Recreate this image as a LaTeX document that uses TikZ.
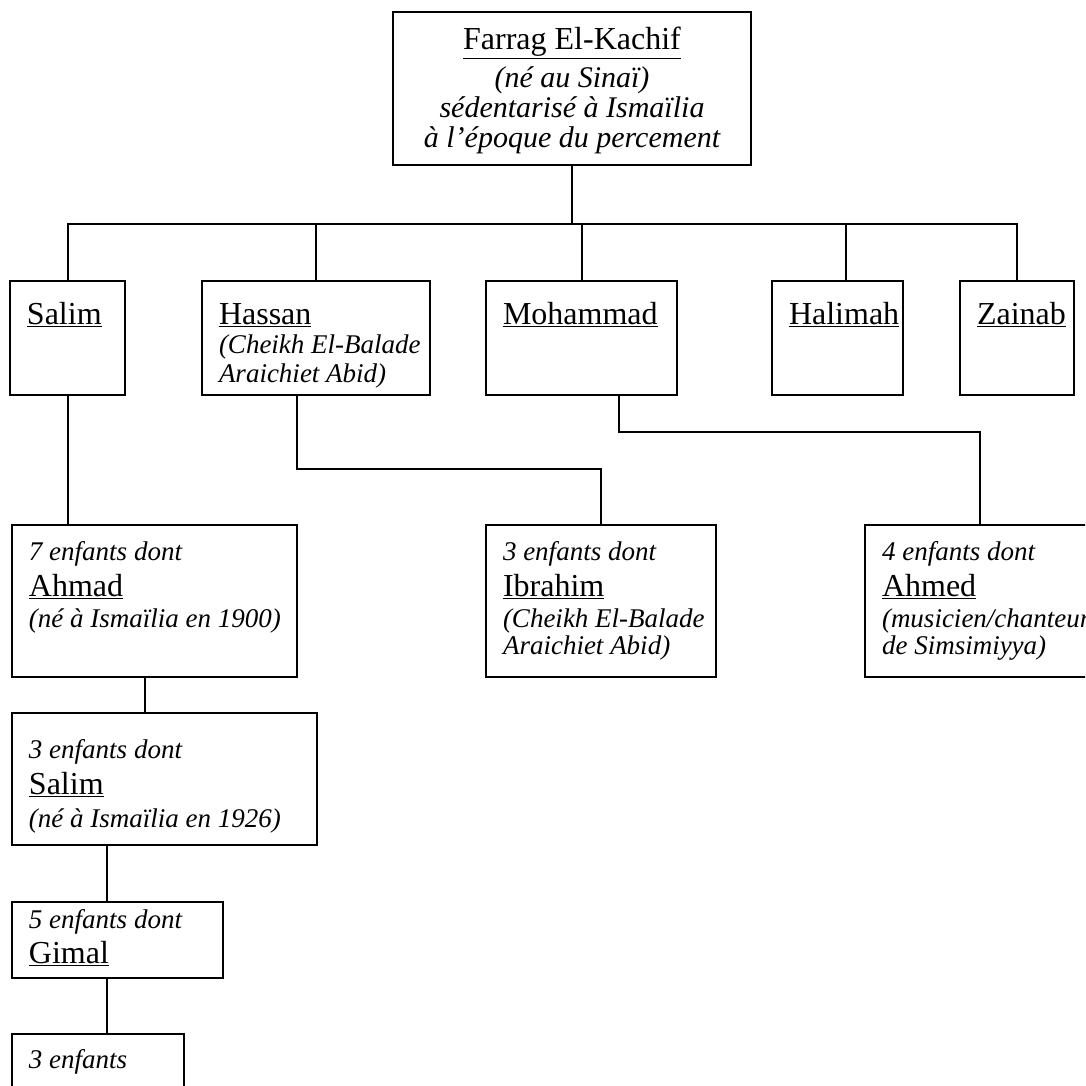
\documentclass[tikz,border=0pt]{standalone}
\usepackage{fontspec}
\setmainfont{Liberation Serif}
\usepackage{tikz}

\newcommand{\nom}[1]{{\upshape\fontsize{32}{29}\selectfont\underline{#1}}}
\newcommand{\fiche}[4]{\parbox[t][#2pt][t]{#1pt}{\raggedright\leftskip=17pt\lineskiplimit=-100pt\rule{0pt}{#3pt}#4}}

\begin{document}
\begin{tikzpicture}[x=1pt,y=-1pt,line width=2pt,
    coude/.style={to path={-- ++(0,#1) -| (\tikztotarget)}}]
	\tikzstyle{boite}=[draw, rectangle, line width=2.2pt, inner sep=0pt, outer sep=0pt, anchor=north west, font=\fontsize{27}{29}\selectfont\itshape]
	\clip (0,0) rectangle (1085,1086);
	% generation 1
	\node[boite,font=\fontsize{30}{30}\selectfont\itshape] (farrag) at (393,12) {\fiche{358}{153}{38}{\centering\nom{Farrag El-Kachif}\\[8pt] (né au Sinaï)\\ sédentarisé à Ismaïlia\\ à l'époque du percement}};
	% generation 2
	\node[boite] (salim)    at (10,281)  {\fiche{115}{114}{43}{\nom{Salim}}};
	\node[boite] (hassan)   at (202,281) {\fiche{228}{114}{43}{\nom{Hassan}\\ (Cheikh El-Balade\\ Araichiet Abid)}};
	\node[boite] (mohammad) at (486,281) {\fiche{191}{114}{43}{\nom{Mohammad}}};
	\node[boite] (halimah)  at (772,281) {\fiche{131}{114}{43}{\nom{Halimah}}};
	\node[boite] (zainab)   at (960,281) {\fiche{114}{114}{43}{\nom{Zainab}}};
	% generation 3
	\node[boite] (ahmad)    at (12,525)  {\fiche{285}{152}{35}{7 enfants dont\\[7pt] \nom{Ahmad}\\[2pt] (né à Ismaïlia en 1900)}};
	\node[boite] (ibrahim)  at (486,525) {\fiche{230}{152}{35}{3 enfants dont\\[7pt] \nom{Ibrahim}\\[2pt] (Cheikh El-Balade\\[-2pt] Araichiet Abid)}};
	\node[boite] (ahmed)    at (865,525) {\fiche{230}{152}{35}{4 enfants dont\\[7pt] \nom{Ahmed}\\[2pt] (musicien/chanteur\\[-2pt] de Simsimiyya)}};
	% descendants of Ahmad
	\node[boite] (salimb)   at (12,713)  {\fiche{305}{132}{45}{3 enfants dont\\[7pt] \nom{Salim}\\[4pt] (né à Ismaïlia en 1926)}};
	\node[boite] (gimal)    at (12,902)  {\fiche{211}{76}{26}{5 enfants dont\\[6pt] \nom{Gimal}}};
	\node[boite] (trois)    at (12,1034) {\fiche{172}{100}{34}{3 enfants}};
	\path
		(farrag.south) edge[coude=59] (salim.north)
		(farrag.south) edge[coude=59] (hassan.north)
		(farrag.south) edge[coude=59] (mohammad.north)
		(farrag.south) edge[coude=59] ([xshift=8pt]halimah.north)
		(farrag.south) edge[coude=59] (zainab.north)
		([xshift=-19pt]hassan.south) edge[coude=74] (ibrahim.north)
		([xshift=37.5pt]mohammad.south) edge[coude=37] (ahmed.north)
		(salim.south) edge ([xshift=-87pt]ahmad.north)
		([xshift=-9.5pt]ahmad.south) edge ([xshift=-19.5pt]salimb.north)
		([xshift=-57.5pt]salimb.south) edge ([xshift=-10.5pt]gimal.north)
		([xshift=-10.5pt]gimal.south) edge ([xshift=9pt]trois.north);
\end{tikzpicture}
\end{document}
